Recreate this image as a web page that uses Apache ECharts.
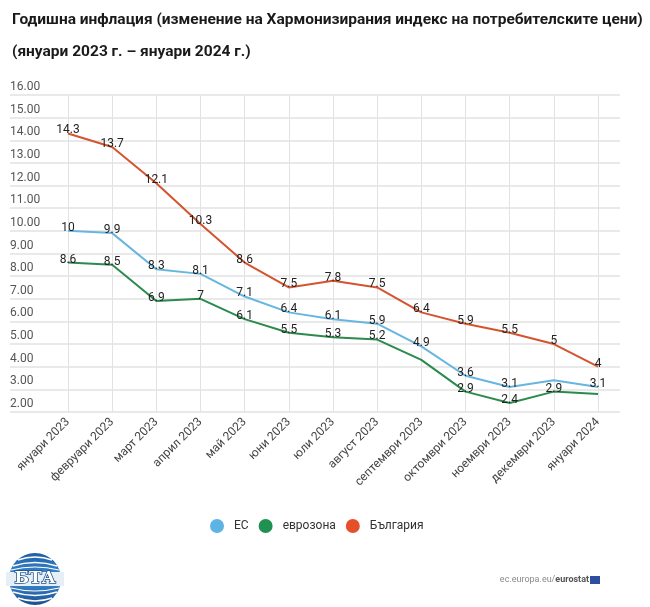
<!DOCTYPE html>
<html>
<head>
<meta charset="utf-8">
<script src="https://cdn.jsdelivr.net/npm/echarts@6/dist/echarts.min.js"></script>
<style>
html,body{margin:0;padding:0;background:#fff;}
#chart{width:650px;height:607px;}
</style>
</head>
<body>
<div id="chart"></div>
<script>
const categories = ['януари 2023','февруари 2023','март 2023','април 2023','май 2023','юни 2023','юли 2023','август 2023','септември 2023','октомври 2023','ноември 2023','декември 2023','януари 2024'];
const euValues = [10, 9.9, 8.3, 8.1, 7.1, 6.4, 6.1, 5.9, 4.9, 3.6, 3.1, 3.4, 3.1];
const euroAreaValues = [8.6, 8.5, 6.9, 7, 6.1, 5.5, 5.3, 5.2, 4.3, 2.9, 2.4, 2.9, 2.8];
const bulgariaValues = [14.3, 13.7, 12.1, 10.3, 8.6, 7.5, 7.8, 7.5, 6.4, 5.9, 5.5, 5, 4];
const euUnlabeled = [11];
const euroAreaUnlabeled = [8, 12];
const bulgariaUnlabeled = [];
const yTicksMin = 2, yTicksMax = 16, yTickStep = 1;

const chart = echarts.init(document.getElementById('chart'));

function buildData(values, hidden) {
  return values.map((v, i) => hidden.indexOf(i) >= 0 ? { value: v, label: { show: false } } : v);
}

function lineSeries(name, values, hidden, color) {
  return {
    name: name,
    type: 'line',
    xAxisIndex: 0,
    yAxisIndex: 0,
    data: buildData(values, hidden),
    symbol: 'circle',
    symbolSize: 0.1,
    lineStyle: { color: color, width: 2 },
    itemStyle: { color: color },
    label: {
      show: true,
      position: 'top',
      distance: -3,
      color: '#222',
      fontSize: 12,
      fontFamily: 'Roboto'
    },
    emphasis: { disabled: true },
    z: 3
  };
}

function arc(x1, y1, cy, x2, w) {
  return {
    type: 'bezierCurve',
    shape: { x1: x1, y1: y1, x2: x2, y2: y1, cpx1: 0, cpy1: cy },
    style: { stroke: '#fff', lineWidth: w, fill: null }
  };
}

const option = {
  animation: false,
  backgroundColor: '#fff',
  title: {
    text: 'Годишна инфлация (изменение на Хармонизирания индекс на потребителските цени)\n(януари 2023 г. – януари 2024 г.)',
    left: 7,
    top: -1,
    textStyle: {
      fontFamily: 'Roboto',
      fontWeight: 'bold',
      fontSize: 15.5,
      lineHeight: 32,
      color: '#1a1a1a'
    }
  },
  legend: {
    left: 205,
    top: 514,
    itemWidth: 14,
    itemHeight: 14,
    itemGap: 10,
    icon: 'circle',
    data: [
      { name: 'ЕС', itemStyle: { color: '#5db3e4' } },
      { name: 'еврозона', itemStyle: { color: '#1f9150' } },
      { name: 'България', itemStyle: { color: '#e5502a' } }
    ],
    textStyle: { fontFamily: 'Roboto', fontSize: 12, color: '#333', padding: [0, 0, 0, 5] }
  },
  grid: [
    { left: 68, right: 52, top: 95, bottom: 195 },
    { left: 10, right: 30, top: 95, bottom: 195 }
  ],
  xAxis: [
    {
      type: 'category',
      gridIndex: 0,
      data: categories,
      boundaryGap: false,
      axisLine: { show: false },
      axisTick: { show: false },
      splitLine: { show: true, lineStyle: { color: '#e2e2e2', width: 1 } },
      axisLabel: {
        rotate: 45,
        margin: 8,
        fontFamily: 'Roboto',
        fontSize: 12,
        color: '#444',
        interval: 0
      }
    },
    { type: 'value', gridIndex: 1, show: false, min: 0, max: 1 }
  ],
  yAxis: [
    { type: 'value', gridIndex: 0, min: yTicksMin, max: yTicksMax, interval: yTickStep, show: false },
    {
      type: 'value',
      gridIndex: 1,
      min: yTicksMin,
      max: yTicksMax,
      interval: yTickStep,
      axisLine: { show: false },
      axisTick: { show: false },
      splitLine: { show: true, lineStyle: { color: '#e2e2e2', width: 1.5 } },
      axisLabel: {
        inside: true,
        margin: 0,
        verticalAlign: 'bottom',
        padding: [0, 0, 2, 0],
        fontFamily: 'Roboto',
        fontSize: 12,
        color: '#555',
        formatter: v => v.toFixed(2)
      }
    }
  ],
  series: [
    lineSeries('ЕС', euValues, euUnlabeled, '#66b6e0'),
    lineSeries('еврозона', euroAreaValues, euroAreaUnlabeled, '#2b8a4c'),
    lineSeries('България', bulgariaValues, bulgariaUnlabeled, '#d3542f')
  ],
  graphic: [
    {
      type: 'group',
      x: 35,
      y: 579,
      children: [
        {
          type: 'circle',
          shape: { cx: 0, cy: 0, r: 26 },
          style: {
            fill: new echarts.graphic.LinearGradient(0, 0, 0, 1, [
              { offset: 0, color: '#1f5ea6' },
              { offset: 0.5, color: '#3d8fd4' },
              { offset: 1, color: '#1c4d8f' }
            ])
          }
        },
        arc(-17, -19, -25, 17, 1.5),
        arc(-22, -13, -20, 22, 1.5),
        arc(-24, -9, -15, 24, 1.2),
        arc(-24, 9, 15, 24, 1.2),
        arc(-22, 13, 20, 22, 1.5),
        arc(-17, 19, 25, 17, 1.5),
        { type: 'rect', shape: { x: -29, y: -7, width: 58, height: 14 }, style: { fill: '#e6eef6' } },
        {
          type: 'text',
          x: 0,
          y: 0,
          style: {
            text: 'БТА',
            fontFamily: "'DejaVu Serif'",
            fontWeight: 'bold',
            fontSize: 17,
            fill: '#fff',
            stroke: '#1d4f8c',
            lineWidth: 1.6,
            align: 'center',
            verticalAlign: 'middle'
          }
        }
      ]
    },
    {
      type: 'text',
      x: 589,
      y: 580,
      style: {
        text: '{a|ec.europa.eu/}{b|eurostat}',
        align: 'right',
        verticalAlign: 'middle',
        rich: {
          a: { fontFamily: 'Roboto', fontSize: 9, fill: '#8a8a8a' },
          b: { fontFamily: 'Roboto', fontSize: 9, fontWeight: 'bold', fill: '#555' }
        }
      }
    },
    {
      type: 'rect',
      x: 590,
      y: 576,
      shape: { width: 10, height: 8 },
      style: { fill: '#2f4f9e' }
    }
  ]
};

chart.setOption(option);
</script>
</body>
</html>
